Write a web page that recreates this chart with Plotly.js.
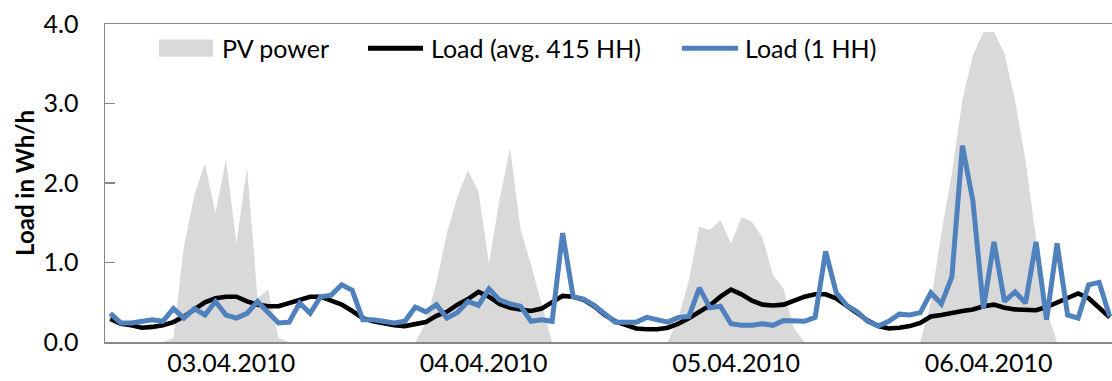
<!DOCTYPE html>
<html><head><meta charset="utf-8">
<script src="https://cdn.plot.ly/plotly-3.0.1.min.js"></script>
<style>html,body{margin:0;padding:0;overflow:hidden;background:#fff}</style>
</head><body><div id="chart" style="width:1112px;height:381px"></div>
<script>
// ---- data (hourly values, 4 days x 24 h) ----
const dates = ['03.04.2010', '04.04.2010', '05.04.2010', '06.04.2010'];
const hoursPerDay = 24;
const seriesNames = ['PV power', 'Load (avg. 415 HH)', 'Load (1 HH)'];
const yTicks = [0, 1, 2, 3, 4];

const pvPower = [
  0,0,0,0,0,0,0.05,1.2,1.85,2.25,1.62,2.3,1.24,2.2,0.55,0.66,0.05,0,0,0,0,0,0,0,
  0,0,0,0,0,0,0.25,0.75,1.37,1.83,2.16,1.89,0.99,1.79,2.44,1.42,0.97,0.47,0,0,0,0,0,0,
  0,0,0,0,0,0,0.3,0.78,1.45,1.41,1.53,1.24,1.57,1.51,1.31,0.84,0.67,0.17,0,0,0,0,0,0,
  0,0,0,0,0,0,0.5,1.37,2.12,3.04,3.61,3.9,3.9,3.63,3.04,2.29,1.3,0.4,0,0,0,0,0,0
];
const loadAvg = [
  0.29,0.23,0.21,0.18,0.19,0.21,0.25,0.32,0.41,0.50,0.55,0.57,0.57,0.51,0.47,0.45,0.45,0.49,0.52,0.57,0.57,0.52,0.47,0.39,
  0.30,0.26,0.23,0.21,0.20,0.22,0.25,0.33,0.38,0.47,0.54,0.63,0.57,0.48,0.43,0.41,0.39,0.42,0.50,0.58,0.57,0.53,0.45,0.34,
  0.26,0.21,0.17,0.16,0.16,0.18,0.23,0.30,0.38,0.46,0.57,0.66,0.60,0.52,0.47,0.46,0.47,0.52,0.57,0.60,0.60,0.55,0.46,0.37,
  0.27,0.20,0.17,0.18,0.20,0.24,0.32,0.34,0.37,0.39,0.41,0.45,0.47,0.43,0.41,0.40,0.40,0.44,0.50,0.56,0.61,0.55,0.43,0.31
];
const loadOne = [
  0.36,0.24,0.24,0.26,0.28,0.26,0.42,0.30,0.42,0.34,0.51,0.34,0.30,0.36,0.51,0.37,0.24,0.25,0.49,0.36,0.57,0.59,0.72,0.65,
  0.28,0.28,0.26,0.24,0.26,0.44,0.38,0.47,0.30,0.37,0.51,0.46,0.67,0.53,0.48,0.45,0.26,0.28,0.26,1.37,0.57,0.54,0.46,0.35,
  0.25,0.25,0.25,0.31,0.28,0.25,0.31,0.32,0.68,0.43,0.45,0.23,0.21,0.21,0.23,0.21,0.27,0.26,0.26,0.31,1.14,0.62,0.46,0.38,
  0.26,0.20,0.26,0.35,0.34,0.37,0.62,0.48,0.82,2.47,1.77,0.42,1.26,0.51,0.63,0.49,1.26,0.28,1.24,0.34,0.30,0.72,0.75,0.32
];

// ---- derived ----
const hours = pvPower.map((_, i) => i);
const dayCenters = dates.map((_, d) => d * hoursPerDay + (hoursPerDay - 1) / 2);
const dayBounds = dates.map((_, d) => d * hoursPerDay - 0.5).concat([dates.length * hoursPerDay - 0.5]);
const xRange = [-0.5, dates.length * hoursPerDay - 0.78];

const GRAY_PV = '#d9d9d9', BLUE = '#4f81bd', AXIS = '#878787';
const FONT = 'Lato, "Open Sans", sans-serif';

const traces = [
  { x: hours, y: pvPower, name: seriesNames[0], type: 'scatter', mode: 'lines', fill: 'tozeroy',
    fillcolor: GRAY_PV, line: { width: 0, color: GRAY_PV }, hoverinfo: 'skip' },
  { x: hours, y: loadAvg, name: seriesNames[1], type: 'scatter', mode: 'lines',
    line: { width: 4.6, color: '#000000' } },
  { x: hours, y: loadOne, name: seriesNames[2], type: 'scatter', mode: 'lines',
    line: { width: 5, color: BLUE } }
];

// custom legend (symbols + labels) placed like the original
const legendItems = [
  { kind: 'rect', x0: 0.0536, x1: 0.1072, color: GRAY_PV, tx: 0.1142 },
  { kind: 'line', x0: 0.2612, x1: 0.3158, color: '#000000', tx: 0.3217 },
  { kind: 'line', x0: 0.5730, x1: 0.6286, color: BLUE, tx: 0.6336 }
];
const legY = 0.924;
const shapes = [], annotations = [];
legendItems.forEach((it, k) => {
  if (it.kind === 'rect') {
    shapes.push({ type: 'rect', xref: 'paper', yref: 'paper', x0: it.x0, x1: it.x1,
      y0: legY - 0.027, y1: legY + 0.027, fillcolor: it.color, line: { width: 0 } });
  } else {
    shapes.push({ type: 'line', xref: 'paper', yref: 'paper', x0: it.x0, x1: it.x1,
      y0: legY, y1: legY, line: { color: it.color, width: 5 } });
  }
  annotations.push({ xref: 'paper', yref: 'paper', x: it.tx, y: legY, xanchor: 'left', yanchor: 'middle',
    text: seriesNames[k], showarrow: false, font: { family: FONT, size: 25, color: '#000' } });
});

const layout = {
  width: 1112, height: 381,
  margin: { l: 105, r: 0, t: 24, b: 39, pad: 0 },
  paper_bgcolor: '#ffffff', plot_bgcolor: '#ffffff',
  showlegend: false,
  font: { family: FONT, color: '#000000' },
  xaxis: {
    range: xRange, tickmode: 'array', tickvals: dayCenters, ticktext: dates, ticks: '',
    showline: true, linecolor: AXIS, linewidth: 1.5, mirror: true,
    showgrid: false, zeroline: false, tickfont: { family: FONT, size: 25, color: '#000' },
    ticklabelstandoff: -2
  },
  xaxis2: {
    overlaying: 'x', anchor: 'y', side: 'bottom', range: xRange, tickmode: 'array', tickvals: dayBounds,
    ticks: 'outside', ticklen: 45, tickwidth: 1.5, tickcolor: AXIS, showticklabels: false,
    showline: false, showgrid: false, zeroline: false
  },
  yaxis: {
    range: [0, 4], tickmode: 'array', tickvals: yTicks, tickformat: '.1f',
    ticks: 'inside', ticklen: 10, tickwidth: 1.5, tickcolor: AXIS,
    showline: true, linecolor: AXIS, linewidth: 1.5, showgrid: false, zeroline: false,
    tickfont: { family: FONT, size: 25, color: '#000' }, ticklabelstandoff: 20,
    title: { text: 'Load in Wh/h', font: { family: FONT, size: 24, weight: 'bold', color: '#000' }, standoff: 2 }
  },
  yaxis2: {
    overlaying: 'y', anchor: 'x', side: 'left', range: [0, 4], tickmode: 'array', tickvals: yTicks,
    ticks: 'outside', ticklen: 5, tickwidth: 1.5, tickcolor: AXIS, showticklabels: false,
    showline: false, showgrid: false, zeroline: false
  },
  shapes: shapes,
  annotations: annotations
};

Plotly.newPlot('chart', traces, layout, { displayModeBar: false, staticPlot: true });
</script>
</body></html>
